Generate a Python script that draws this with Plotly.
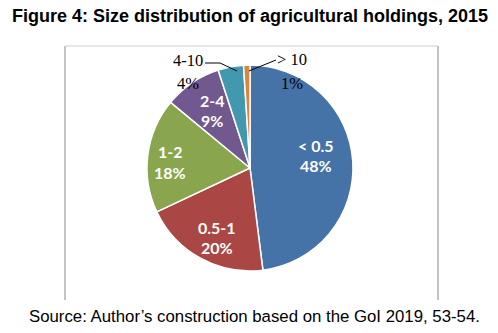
import plotly.graph_objects as go

categories = ["< 0.5", "0.5-1", "1-2", "2-4", "4-10", "> 10"]
shares = [48, 20, 18, 9, 4, 1]
colors = ["#4572A7", "#AA4643", "#89A54E", "#71588F", "#4198AF", "#DB843D"]

W, H = 498, 333

fig = go.Figure()
fig.add_trace(go.Pie(
    labels=categories,
    values=shares,
    textinfo="none",
    marker=dict(colors=colors, line=dict(color="white", width=1.5)),
    sort=False,
    direction="clockwise",
    rotation=0,
    showlegend=False,
    hoverinfo="label+percent",
    domain=dict(x=[147 / W, 353 / W], y=[(H - 273) / H, (H - 63) / H]),
))

def px(x):
    return x / W

def py(y):
    return 1 - y / H

shapes = [
    dict(type="line", xref="paper", yref="paper", x0=px(65), x1=px(65), y0=py(46), y1=py(300),
         line=dict(color="#c4c4c4", width=2)),
    dict(type="line", xref="paper", yref="paper", x0=px(65), x1=px(438), y0=py(46), y1=py(46),
         line=dict(color="#cccccc", width=1)),
    dict(type="line", xref="paper", yref="paper", x0=px(438), x1=px(438), y0=py(46), y1=py(300),
         line=dict(color="#888888", width=1)),
    # leader lines for small slices
    dict(type="path", xref="paper", yref="paper",
         path=f"M {px(205)} {py(63)} L {px(220)} {py(63)} L {px(237)} {py(71)}",
         line=dict(color="black", width=1)),
    dict(type="line", xref="paper", yref="paper", x0=px(276), x1=px(249), y0=py(60), y1=py(71),
         line=dict(color="black", width=1)),
]

inner_font = dict(family="Lato", size=16, color="white", weight="bold")
serif = dict(family="Liberation Serif", size=16.5, color="black")

# label anchor positions (pixels) for each slice: (x, y of first line)
label_pos = [(316, 145), (217, 227), (170, 152), (212, 100), (188, 61), (292, 60)]
label_fonts = [inner_font] * 4 + [serif] * 2
line_gap = [20, 20, 20, 20, 22, 23]

annotations = [
    dict(text="<b>Figure 4: Size distribution of agricultural holdings, 2015</b>",
         x=px(250), y=py(16), xref="paper", yref="paper", showarrow=False,
         font=dict(family="Liberation Sans", size=18, color="black"), xanchor="center", yanchor="middle"),
    dict(text="Source: Author\u2019s construction based on the GoI 2019, 53-54.",
         x=px(254), y=py(316), xref="paper", yref="paper", showarrow=False,
         font=dict(family="Liberation Sans", size=16.8, color="black"), xanchor="center", yanchor="middle"),
]
for c, v, (lx, ly), f, g in zip(categories, shares, label_pos, label_fonts, line_gap):
    annotations.append(dict(text=c, x=px(lx), y=py(ly), xref="paper", yref="paper", showarrow=False,
                            font=f, xanchor="center", yanchor="middle"))
    annotations.append(dict(text=f"{v}%", x=px(lx), y=py(ly + g), xref="paper", yref="paper",
                            showarrow=False, font=f, xanchor="center", yanchor="middle"))

fig.update_layout(
    width=W, height=H,
    margin=dict(l=0, r=0, t=0, b=0),
    paper_bgcolor="white", plot_bgcolor="white",
    shapes=shapes, annotations=annotations,
)

fig.write_html("out.html")
